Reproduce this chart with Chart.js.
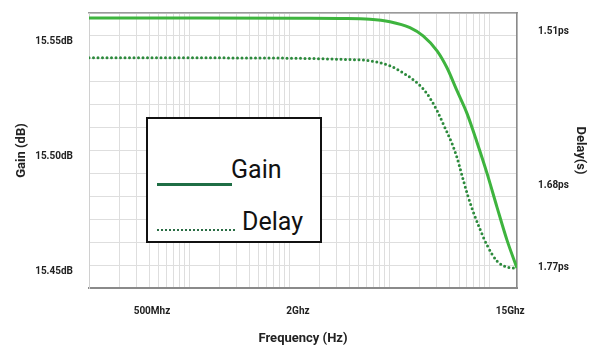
<!DOCTYPE html>
<html>
<head>
<meta charset="utf-8">
<script src="https://cdn.jsdelivr.net/npm/chart.js@4"></script>
<style>
  body { margin: 0; background: #fff; }
  #wrap { position: relative; width: 592px; height: 353px; }
  #legend {
    position: absolute; left: 146px; top: 117px; width: 172px; height: 122px;
    border: 2px solid #111; background: #fff;
    font-family: Roboto, "Liberation Sans", sans-serif;
    color: #111;
  }
  #legend span { position: absolute; font-size: 25px; line-height: 1; }
  .sample { position: absolute; height: 0; }
</style>
</head>
<body>
<div id="wrap">
  <canvas id="grafico"></canvas>
  <div id="legend">
    <div class="sample" style="left:9px; top:64px; width:75px; border-top:3px solid #1f6e45;"></div>
    <span style="left:83px; top:38px;">Gain</span>
    <div class="sample" style="left:9px; top:110px; width:78px; border-top:2px dotted #2b6e45;"></div>
    <span style="left:94px; top:90px;">Delay</span>
  </div>
</div>
<script>
// frecuencias (Hz) y valores
const frecuencias = [2.75e8, 7.9e8, 2.04e9, 2.98e9, 3.96e9, 4.79e9, 5.79e9, 6.56e9, 7.49e9, 8.23e9, 9.05e9, 9.96e9, 1.095e10, 1.204e10, 1.324e10, 1.455e10, 1.6e10];
const ganancia = [15.5578, 15.5578, 15.5577, 15.5576, 15.5573, 15.5562, 15.5536, 15.5500, 15.5435, 15.5361, 15.5261, 15.5161, 15.5035, 15.4900, 15.4752, 15.4609, 15.4487];

const frecRetardo = [2.75e8, 7.9e8, 2.04e9, 2.98e9, 3.96e9, 4.79e9, 5.42e9, 6.19e9, 6.81e9, 7.49e9, 7.93e9, 8.63e9, 9.05e9, 9.49e9, 1.005e10, 1.054e10, 1.126e10, 1.204e10, 1.324e10, 1.455e10, 1.6e10];
const retardo = [1.5386, 1.5386, 1.5391, 1.5402, 1.5419, 1.5474, 1.5551, 1.5661, 1.5782, 1.5969, 1.6113, 1.6333, 1.6487, 1.6685, 1.6917, 1.7082, 1.7280, 1.7456, 1.7632, 1.7699, 1.7710];

const ticksGanancia = [15.45, 15.50, 15.55];
const ticksRetardo = [1.51, 1.68, 1.77];
const ticksFrec = [5e8, 2e9, 1.5e10];
const etiquetasFrec = ['500Mhz', '2Ghz', '15Ghz'];

const fuente = 'Roboto, "Liberation Sans", sans-serif';
const colorTexto = '#222';

// anchos fijos de los ejes, sin relleno extra
const fijarVertical = ancho => s => { s.width = ancho; s.paddingTop = 0; s.paddingBottom = 0; };
const fijarHorizontal = alto => s => { s.height = alto; s.paddingLeft = 0; s.paddingRight = 0; };

const ctx = document.getElementById('grafico').getContext('2d');
new Chart(ctx, {
  type: 'line',
  data: {
    datasets: [{
      label: 'Gain',
      data: frecuencias.map((f, i) => ({ x: f, y: ganancia[i] })),
      borderColor: '#3eb43e',
      borderWidth: 3,
      pointRadius: 0,
      cubicInterpolationMode: 'monotone',
      xAxisID: 'x',
      yAxisID: 'y'
    }, {
      label: 'Delay',
      data: frecRetardo.map((f, i) => ({ x: f, y: retardo[i] })),
      borderColor: '#2c8a3c',
      borderWidth: 3,
      borderDash: [0, 4.5],
      borderCapStyle: 'round',
      pointRadius: 0,
      cubicInterpolationMode: 'monotone',
      xAxisID: 'x',
      yAxisID: 'y2'
    }]
  },
  options: {
    responsive: true,
    maintainAspectRatio: false,
    animation: false,
    layout: { padding: { top: 13, left: 0, right: 0, bottom: 0 } },
    plugins: { legend: { display: false }, tooltip: { enabled: false } },
    scales: {
      x: {
        type: 'logarithmic',
        position: 'bottom',
        min: 2.75e8,
        max: 1.6e10,
        afterBuildTicks: s => { s.ticks = ticksFrec.map(v => ({ value: v })); },
        afterFit: fijarHorizontal(65),
        grid: { display: false },
        border: { display: true, color: '#8a8a8a', width: 2 },
        ticks: {
          autoSkip: false,
          maxRotation: 0,
          padding: 9,
          color: colorTexto,
          font: { family: fuente, size: 10, weight: 'bold' },
          callback: v => etiquetasFrec[ticksFrec.indexOf(v)] ?? ''
        },
        title: {
          display: true,
          text: 'Frequency (Hz)',
          color: colorTexto,
          font: { family: fuente, size: 13, weight: 'bold' },
          padding: { top: 0, bottom: 6 }
        }
      },
      // eje solo para la rejilla logaritmica vertical
      rejilla: {
        type: 'logarithmic',
        position: 'top',
        min: 1e8,
        max: 1.9e12,
        afterFit: fijarHorizontal(0),
        ticks: { display: false },
        grid: {
          drawTicks: false,
          color: c => {
            const v = c.tick ? c.tick.value : 1;
            const m = v / Math.pow(10, Math.floor(Math.log10(v)));
            return Math.abs(m - 1.5) < 0.01 ? 'rgba(0,0,0,0)' : '#dedede';
          }
        },
        border: { display: true, color: '#9a9a9a', width: 1.5 }
      },
      y: {
        position: 'left',
        min: 15.44,
        max: 15.56,
        afterFit: fijarVertical(89),
        grid: { color: '#dedede', drawTicks: false },
        border: { display: true, color: '#d0d0d0', width: 1 },
        ticks: {
          stepSize: 0.01,
          autoSkip: false,
          padding: 16,
          labelOffset: 6,
          color: colorTexto,
          font: { family: fuente, size: 10, weight: 'bold' },
          callback: v => ticksGanancia.some(t => Math.abs(t - v) < 1e-6) ? Number(v).toFixed(2) + 'dB' : ''
        },
        title: {
          display: true,
          text: 'Gain (dB)',
          color: colorTexto,
          font: { family: fuente, size: 13, weight: 'bold' },
          padding: { top: 14, bottom: 0 }
        }
      },
      y2: {
        position: 'right',
        reverse: true,
        min: 1.489,
        max: 1.793,
        afterBuildTicks: s => { s.ticks = ticksRetardo.map(v => ({ value: v })); },
        afterFit: fijarVertical(75),
        grid: { display: false },
        border: { display: true, color: '#8a8a8a', width: 1.5 },
        ticks: {
          autoSkip: false,
          padding: 13,
          color: colorTexto,
          font: { family: fuente, size: 10, weight: 'bold' },
          callback: v => Number(v).toFixed(2) + 'ps'
        },
        title: {
          display: true,
          text: 'Delay(s)',
          color: colorTexto,
          font: { family: fuente, size: 13, weight: 'bold' },
          padding: { top: 4, bottom: 0 }
        }
      }
    }
  }
});
</script>
</body>
</html>
